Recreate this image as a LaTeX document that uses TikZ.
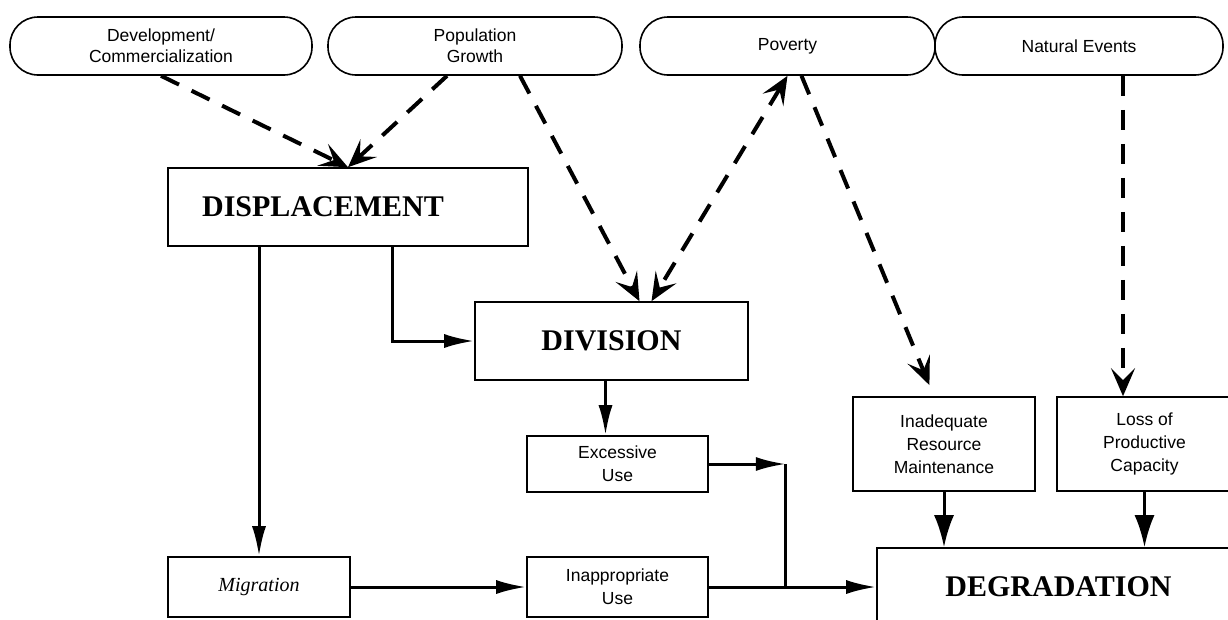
\documentclass[tikz,border=0pt]{standalone}
\usepackage{fontspec}
\setmainfont{Liberation Serif}
\newfontfamily\arialfont{Liberation Sans}
\usetikzlibrary{arrows.meta,calc}

\begin{document}
\begin{tikzpicture}[x=1pt, y=-1pt,
	cause/.style={draw, line width=1.6pt, rounded corners=28pt, minimum height=58pt, inner sep=0pt, align=center, font=\arialfont\fontsize{17.5}{21}\selectfont},
	bigbox/.style={draw, line width=1.6pt, inner sep=0pt, minimum height=78pt, font=\bfseries\fontsize{30}{32}\selectfont},
	smallbox/.style={draw, line width=1.6pt, inner sep=0pt, align=center, font=\arialfont\fontsize{17.5}{23}\selectfont},
	dasharrow/.style={line width=4pt, dash pattern=on 20pt off 14pt, >={Stealth[length=28pt,width=24pt,inset=12pt]}, ->},
	solidarrow/.style={line width=3pt, >={Latex[length=30pt,width=14pt]}, ->}]
	\useasboundingbox (0,0) rectangle (1228,619);
	\clip (0,0) rectangle (1228,619);

	% causes
	\node[cause, minimum width=302pt] (dev) at (161,46) {Development/\\Commercialization};
	\node[cause, minimum width=294pt] (pop) at (475,46) {Population\\Growth};
	\node[cause, minimum width=295pt] (pov) at (787.5,46) {Poverty};
	\node[cause, minimum width=288pt] (nat) at (1079,46) {Natural Events};

	% main boxes
	\node[bigbox, minimum width=360pt] (disp) at (348,207) {DISPLACEMENT\kern50pt};
	\node[bigbox, minimum width=273pt] (div) at (611.5,341) {DIVISION};
	\node[bigbox, minimum width=363pt] (deg) at (1058.5,587) {DEGRADATION};

	\node[smallbox, minimum width=181pt, minimum height=56pt] (exc) at (617.5,464) {Excessive\\Use};
	\node[smallbox, minimum width=181pt, minimum height=60pt] (inap) at (617.5,587) {Inappropriate\\Use};
	\node[smallbox, minimum width=182pt, minimum height=60pt, font=\itshape\fontsize{20}{22}\selectfont] (mig) at (259,587) {Migration};
	\node[smallbox, minimum width=182pt, minimum height=94pt] (inad) at (944,444) {Inadequate\\Resource\\Maintenance};
	\node[smallbox, minimum width=175pt, minimum height=94pt] (loss) at (1144.5,444) {Loss of\\Productive\\Capacity};

	% dashed links
	\draw[dasharrow] (dev.south) -- (disp.north);
	\draw[dasharrow] ([xshift=-28pt]pop.south) -- (disp.north);
	\draw[dasharrow] ([xshift=45pt]pop.south) -- ([xshift=28pt]div.north);
	\draw[dasharrow, <->] (pov.south) -- ([xshift=40pt]div.north);
	\draw[dasharrow, shorten >=12pt] ([xshift=14pt]pov.south) -- ([xshift=-10pt]inad.north);
	\draw[dasharrow] ([xshift=44pt]nat.south) -- ([xshift=44pt]nat.south |- loss.north);

	% solid links
	\draw[solidarrow] (mig.north |- disp.south) -- (mig.north);
	\draw[solidarrow] ([xshift=44pt]disp.south) |- (div.west);
	\draw[solidarrow] ([xshift=-6pt]div.south) -- ([xshift=-6pt]div.south |- exc.north);
	\coordinate (joint) at ($(inap.east)+(77,0)$);
	\draw[solidarrow] (exc.east) -- (exc.east -| joint);
	\draw[line width=3pt] (exc.east -| joint) -- (joint);
	\draw[solidarrow] (mig.east) -- (inap.west);
	\draw[solidarrow] (inap.east) -- (deg.west);
	\draw[solidarrow, >={Latex[length=32pt,width=20pt]}] (inad.south) -- (inad.south |- deg.north);
	\draw[solidarrow, >={Latex[length=32pt,width=20pt]}] (loss.south) -- (loss.south |- deg.north);

\end{tikzpicture}
\end{document}
